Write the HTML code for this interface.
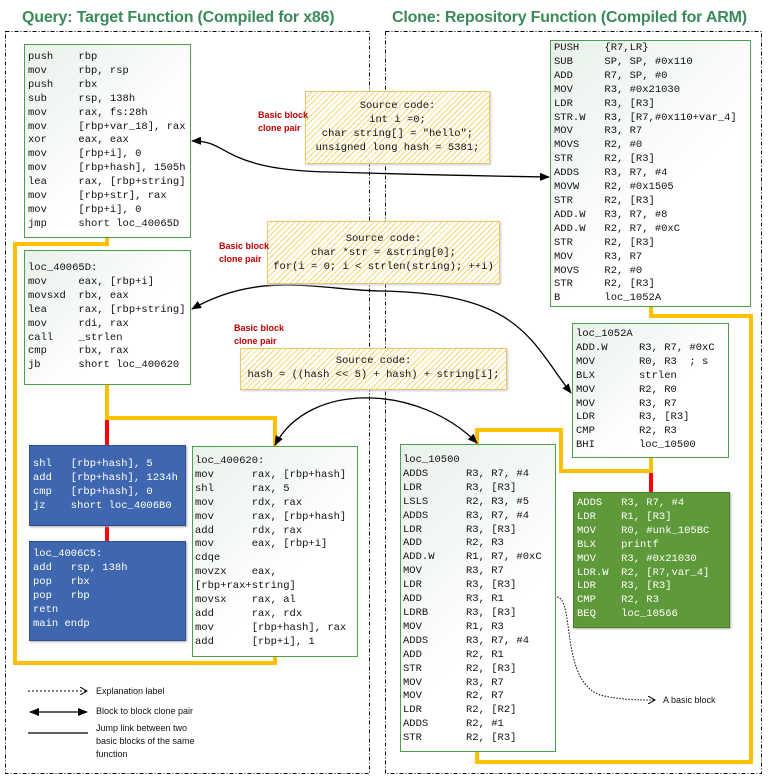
<!DOCTYPE html>
<html><head><meta charset="utf-8"><style>
body{margin:0;width:774px;height:784px;background:#fff;position:relative;overflow:hidden;font-family:"Liberation Sans",sans-serif}
.t{position:absolute;font-weight:bold;color:#3a8a5a;font-size:16px;letter-spacing:-0.2px}
.b{position:absolute;box-sizing:border-box;border:1px solid #4ca04c;background:linear-gradient(135deg,#e8f1ea,#fff 60%)}
.b pre,.s pre{margin:0;font-family:"Liberation Mono",monospace;font-size:10.5px;line-height:13.9px;color:#111}
.blue{position:absolute;box-sizing:border-box;background:#3f67b0;border:1px solid #2f5090;box-shadow:1px 1px 2px #aaa}
.blue pre,.grn pre{margin:0;font-family:"Liberation Mono",monospace;font-size:10.5px;line-height:13.9px;color:#fff}
.grn{position:absolute;box-sizing:border-box;background:#5f9a3a;border:1px solid #4a7d2c;box-shadow:1px 1px 2px #aaa}
.s{position:absolute;box-sizing:border-box;border:1px solid #e8c86a;background:repeating-linear-gradient(-45deg,#fff 0 3px,#f7d57a 3px 4px);text-align:center;box-shadow:1px 1px 2px #ccc}
.s pre{text-align:center}
.r{position:absolute;color:#c00000;font-size:9px;font-weight:bold;line-height:13px}
.l{position:absolute;font-size:9px;line-height:13px;color:#111}
</style></head><body>
<div class="t" style="left:22px;top:9px">Query: Target Function (Compiled for x86)</div>
<div class="t" style="left:392px;top:9px">Clone: Repository Function (Compiled for ARM)</div>
<svg width="774" height="784" style="position:absolute;left:0;top:0">
<rect x="5.5" y="31.5" width="364" height="742" fill="none" stroke="#000" stroke-dasharray="4,2,1,2"/>
<rect x="385.5" y="31.5" width="376" height="742" fill="none" stroke="#000" stroke-dasharray="4,2,1,2"/>
<g fill="none" stroke="#ffc000" stroke-width="4">
<polyline points="107,237 107,244 15,244 15,663 275,663 275,655"/>
<polyline points="107,385 107,418 275,418 275,446"/>
<polyline points="651,306 651,316 751,316 751,762 477,762 477,751"/>
<polyline points="651,457 651,471 561,471 561,430 477,430 477,444"/>
</g>
<g stroke="#ff0000" stroke-width="4">
<line x1="107" y1="420" x2="107" y2="445"/><line x1="107" y1="525" x2="107" y2="541"/>
<line x1="651" y1="473" x2="651" y2="492"/>
</g>
<defs><marker id="a" markerWidth="10" markerHeight="8" refX="9" refY="4" orient="auto-start-reverse" markerUnits="userSpaceOnUse"><path d="M0,0 L10,4 L0,8 Z" fill="#000"/></marker>
<marker id="o" markerWidth="8" markerHeight="8" refX="7" refY="4" orient="auto" markerUnits="userSpaceOnUse"><path d="M0,0 L7,4 L0,8" fill="none" stroke="#000"/></marker></defs>
<g fill="none" stroke="#000" stroke-width="1.3">
<path d="M192,141 C230,140 220,170 330,172 C430,175 480,176 549,177" marker-start="url(#a)" marker-end="url(#a)"/>
<path d="M192,309 C260,270 320,290 380,291 C520,293 530,340 571,393" marker-start="url(#a)" marker-end="url(#a)"/>
<path d="M275,445 C310,380 420,385 477,443" marker-start="url(#a)" marker-end="url(#a)"/>
</g>
<path d="M557,597 C575,600 560,680 600,695 C620,700 640,700 655,700" fill="none" stroke="#000" stroke-dasharray="1.5,1.5" marker-end="url(#o)"/>
<line x1="28" y1="691" x2="87" y2="691" stroke="#000" stroke-dasharray="2,2" marker-end="url(#o)"/>
<line x1="30" y1="712" x2="87" y2="712" stroke="#000" stroke-width="1.3" marker-start="url(#a)" marker-end="url(#a)"/>
<line x1="28" y1="733" x2="88" y2="733" stroke="#000" stroke-width="1.3"/>
</svg>
<div class="b" style="left:24px;top:44px;width:167px;height:194px;padding:6px 0 0 3px"><pre>push    rbp
mov     rbp, rsp
push    rbx
sub     rsp, 138h
mov     rax, fs:28h
mov     [rbp+var_18], rax
xor     eax, eax
mov     [rbp+i], 0
mov     [rbp+hash], 1505h
lea     rax, [rbp+string]
mov     [rbp+str], rax
mov     [rbp+i], 0
jmp     short loc_40065D</pre></div>
<div class="b" style="left:24px;top:250px;width:167px;height:135px;padding:11px 0 0 3px"><pre>loc_40065D:
mov     eax, [rbp+i]
movsxd  rbx, eax
lea     rax, [rbp+string]
mov     rdi, rax
call    _strlen
cmp     rbx, rax
jb      short loc_400620</pre></div>
<div class="blue" style="left:29px;top:445px;width:157px;height:81px;padding:12px 0 0 3px"><pre>shl   [rbp+hash], 5
add   [rbp+hash], 1234h
cmp   [rbp+hash], 0
jz    short loc_4006B0</pre></div>
<div class="blue" style="left:29px;top:541px;width:157px;height:100px;padding:6px 0 0 3px"><pre>loc_4006C5:
add   rsp, 138h
pop   rbx
pop   rbp
retn
main endp</pre></div>
<div class="b" style="left:192px;top:446px;width:166px;height:211px;padding:8px 0 0 2px"><pre>loc_400620:
mov      rax, [rbp+hash]
shl      rax, 5
mov      rdx, rax
mov      rax, [rbp+hash]
add      rdx, rax
mov      eax, [rbp+i]
cdqe
movzx    eax,
[rbp+rax+string]
movsx    rax, al
add      rax, rdx
mov      [rbp+hash], rax
add      [rbp+i], 1</pre></div>
<div class="b" style="left:550px;top:40px;width:201px;height:267px;padding:1px 0 0 3px"><pre>PUSH    {R7,LR}
SUB     SP, SP, #0x110
ADD     R7, SP, #0
MOV     R3, #0x21030
LDR     R3, [R3]
STR.W   R3, [R7,#0x110+var_4]
MOV     R3, R7
MOVS    R2, #0
STR     R2, [R3]
ADDS    R3, R7, #4
MOVW    R2, #0x1505
STR     R2, [R3]
ADD.W   R3, R7, #8
ADD.W   R2, R7, #0xC
STR     R2, [R3]
MOV     R3, R7
MOVS    R2, #0
STR     R2, [R3]
B       loc_1052A</pre></div>
<div class="b" style="left:572px;top:323px;width:157px;height:135px;padding:4px 0 0 3px"><pre>loc_1052A
ADD.W     R3, R7, #0xC
MOV       R0, R3  ; s
BLX       strlen
MOV       R2, R0
MOV       R3, R7
LDR       R3, [R3]
CMP       R2, R3
BHI       loc_10500</pre></div>
<div class="grn" style="left:573px;top:492px;width:157px;height:136px;padding:4px 0 0 3px"><pre>ADDS   R3, R7, #4
LDR    R1, [R3]
MOV    R0, #unk_105BC
BLX    printf
MOV    R3, #0x21030
LDR.W  R2, [R7,var_4]
LDR    R3, [R3]
CMP    R2, R3
BEQ    loc_10566</pre></div>
<div class="b" style="left:400px;top:444px;width:156px;height:308px;padding:9px 0 0 2px"><pre>loc_10500
ADDS      R3, R7, #4
LDR       R3, [R3]
LSLS      R2, R3, #5
ADDS      R3, R7, #4
LDR       R3, [R3]
ADD       R2, R3
ADD.W     R1, R7, #0xC
MOV       R3, R7
LDR       R3, [R3]
ADD       R3, R1
LDRB      R3, [R3]
MOV       R1, R3
ADDS      R3, R7, #4
ADD       R2, R1
STR       R2, [R3]
MOV       R3, R7
MOV       R2, R7
LDR       R2, [R2]
ADDS      R2, #1
STR       R2, [R3]</pre></div>
<div class="s" style="left:305px;top:91px;width:185px;height:73px;padding-top:8px"><pre>Source code:
int i =0;
char string[] = "hello";
unsigned long hash = 5381;</pre></div>
<div class="s" style="left:267px;top:221px;width:233px;height:63px;padding-top:11px"><pre>Source code:
char *str = &amp;string[0];
for(i = 0; i &lt; strlen(string); ++i)</pre></div>
<div class="s" style="left:240px;top:348px;width:267px;height:42px;padding-top:6px"><pre>Source code:
hash = ((hash &lt;&lt; 5) + hash) + string[i];</pre></div>
<div class="r" style="left:258px;top:109px">Basic block<br>clone pair</div>
<div class="r" style="left:219px;top:240px">Basic block<br>clone pair</div>
<div class="r" style="left:234px;top:322px">Basic block<br>clone pair</div>
<div class="l" style="left:96px;top:685px">Explanation label</div>
<div class="l" style="left:96px;top:705px">Block to block clone pair</div>
<div class="l" style="left:96px;top:722px">Jump link between two<br>basic blocks of the same<br>function</div>
<div class="l" style="left:663px;top:694px">A basic block</div>
</body></html>
